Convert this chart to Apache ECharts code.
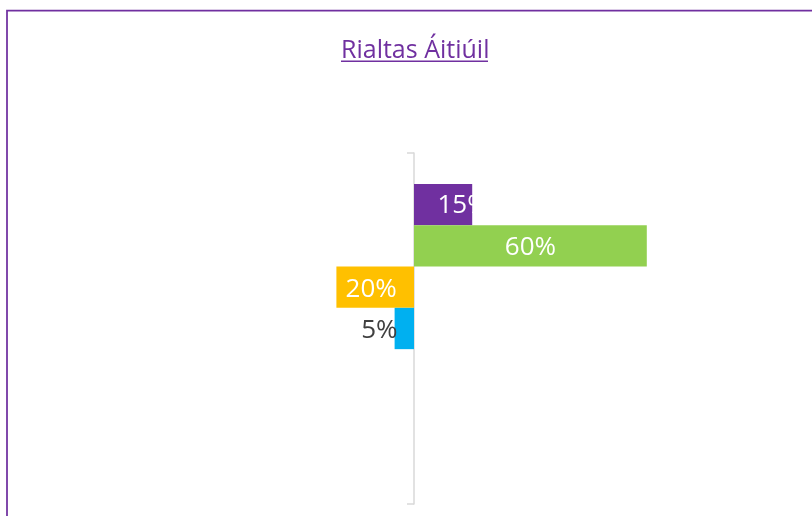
<!DOCTYPE html>
<html>
<head>
<meta charset="utf-8">
<script src="https://cdn.jsdelivr.net/npm/echarts@6/dist/echarts.min.js"></script>
<style>
  html, body { margin: 0; padding: 0; background: #fff; }
  #chart { width: 812px; height: 516px; }
</style>
</head>
<body>
<div id="chart"></div>
<script>
// one category, seven series (the last three are empty in the source sheet)
var categories = [''];
var seriesNames = ['Sraith 1', 'Sraith 2', 'Sraith 3', 'Sraith 4', 'Sraith 5', 'Sraith 6', 'Sraith 7'];
var seriesValues = [[15], [60], [-20], [-5], ['-'], ['-'], ['-']];
var seriesColors = ['#7030A0', '#92D050', '#FFC000', '#00B0F0', '#A5A5A5', '#4472C4', '#ED7D31'];

// label placement per series
var labelStyles = [
    { position: 'inside', offset: [20, 1], color: '#fff' },
    { position: 'inside', offset: [0, 2], color: '#fff' },
    { position: 'inside', offset: [-4, 2], color: '#fff' },
    { position: 'left', distance: -3, offset: [0, 2], color: '#404040' },
    {}, {}, {}
];

var myChart = echarts.init(document.getElementById('chart'));

var series = seriesNames.map(function (name, i) {
    return {
        name: name,
        type: 'bar',
        data: seriesValues[i],
        barGap: '0%',
        barCategoryGap: '17.6%',
        itemStyle: { color: seriesColors[i] },
        label: Object.assign({
            show: true,
            fontFamily: 'Open Sans',
            fontSize: 26,
            formatter: function (p) { return Math.abs(p.value) + '%'; }
        }, labelStyles[i])
    };
});

myChart.setOption({
    animation: false,
    title: {
        text: 'Rialtas Áitiúil',
        left: 336,
        top: 33,
        textStyle: { fontFamily: 'Open Sans', fontSize: 25, fontWeight: 'normal', color: '#7030A0' }
    },
    graphic: [
        // chart frame
        { type: 'rect', shape: { x: 7, y: 10.5, width: 840, height: 540 },
          style: { fill: null, stroke: '#7030A0', lineWidth: 1.75 }, silent: true },
        // title underline
        { type: 'rect', shape: { x: 341, y: 60.5, width: 147, height: 1.6 },
          style: { fill: '#7030A0' }, silent: true }
    ],
    grid: { left: 26, width: 776, top: 153, height: 351, containLabel: false },
    xAxis: {
        type: 'value',
        min: -100,
        max: 100,
        axisLine: { show: false },
        axisTick: { show: false },
        axisLabel: { show: false },
        splitLine: { show: false }
    },
    yAxis: {
        type: 'category',
        data: categories,
        inverse: true,
        axisLine: { onZero: true, lineStyle: { color: '#d9d9d9', width: 1.5 } },
        axisTick: { show: true, length: 7, lineStyle: { color: '#d9d9d9', width: 1.5 } },
        axisLabel: { show: false }
    },
    series: series
});
</script>
</body>
</html>
